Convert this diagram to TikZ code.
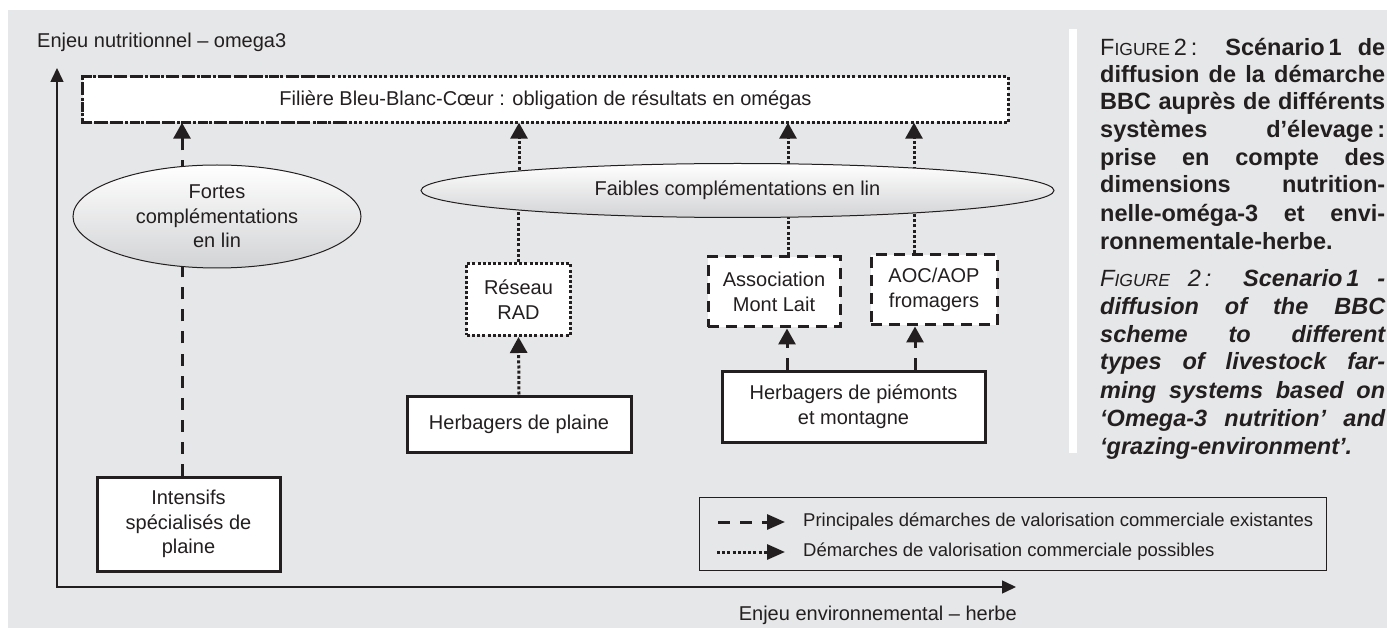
\documentclass[tikz,border=0pt]{standalone}
\usepackage{fontspec}
\setmainfont{Liberation Sans}
\usetikzlibrary{arrows.meta,shapes.geometric}
\definecolor{bggray}{RGB}{230,231,232}
\definecolor{ink}{RGB}{35,31,32}
\definecolor{ellbot}{RGB}{210,211,213}
\newcommand\mycapfont{\fontsize{23.5}{28}\selectfont}
\newcommand\mycapsc{\fontsize{17.5}{28}\selectfont}
\pgfdeclarelayer{bgl}
\pgfdeclarelayer{conn}
\pgfsetlayers{bgl,conn,main}
\begin{document}
\begin{tikzpicture}[x=1pt,y=-1pt,
  txt/.style={font=\fontsize{20}{24.5}\selectfont, text=ink, align=center, inner sep=0pt},
  legtxt/.style={font=\fontsize{18.5}{22}\selectfont, text=ink, inner sep=0pt},
  solidbox/.style={txt, draw=ink, line width=3pt, fill=white},
  dashbox/.style={txt, draw=ink, line width=3pt, dash pattern=on 11pt off 7pt, fill=white},
  dotbox/.style={txt, draw=ink, line width=3pt, dash pattern=on 3pt off 2.2pt, fill=white},
  ellnode/.style={txt, ellipse, draw=ink, line width=1pt, top color=white, bottom color=ellbot},
  dashln/.style={draw=ink, line width=3pt, dash pattern=on 12pt off 10pt},
  dotln/.style={draw=ink, line width=3pt, dash pattern=on 3pt off 2.2pt},
  headtip/.style={-{Triangle[length=16pt,width=17pt]}},
  legtip/.style={-{Triangle[length=18pt,width=15pt]}},
  axisln/.style={draw=ink, line width=1.5pt, {Triangle[length=14pt,width=13pt]}-{Triangle[length=14pt,width=13pt]}},
  capln/.style={anchor=base west, inner sep=0pt, font=\mycapfont, text=ink}]
\useasboundingbox (0,0) rectangle (1387,628);
\begin{pgfonlayer}{bgl}
  \fill[white] (0,0) rectangle (1387,628);
  \fill[bggray] (8,10) rectangle (1387,628);
  \fill[white] (1069,29) rectangle (1077,453);
\end{pgfonlayer}

% axes
\coordinate (orig) at (57,587);
\coordinate (ytip) at (57,68);
\coordinate (xtip) at (1016,587);
\draw[axisln] (ytip) -- (orig) -- (xtip);
\node[txt, anchor=west] (ylab) at (37,42) {Enjeu nutritionnel – omega3};
\node[txt, anchor=east] (xlab) at (1017,615) {Enjeu environnemental – herbe};

% top box
\node[txt, fill=white, minimum width=925pt, minimum height=45.5pt] (top) at (545.5,99.75)
  {Filière Bleu-Blanc-Cœur : obligation de résultats en omégas};
\draw[dotln, line width=2.8pt] (top.north west) rectangle (top.south east);
\draw[draw=ink, line width=3pt, dash pattern=on 10pt off 7pt]
  ([xshift=247pt]top.north west) -- (top.north west) -- (top.south west) -- ([xshift=262pt]top.south west);

% ellipses
\node[ellnode, minimum width=288pt, minimum height=103pt] (fortes) at (217,216.5)
  {Fortes\\complémentations\\en lin};
\node[ellnode, minimum width=633pt, minimum height=54pt] (faibles) at (737.5,190.5)
  {Faibles complémentations en lin};

% boxes
\node[dotbox, minimum width=103.5pt, minimum height=72pt] (reseau) at (518.5,299.5) {Réseau\\RAD};
\node[dashbox, minimum width=132pt, minimum height=70pt] (assoc) at (774,292) {Association\\Mont Lait};
\node[dashbox, minimum width=126pt, minimum height=70pt] (aoc) at (934,290) {AOC/AOP\\fromagers};
\node[solidbox, minimum width=224pt, minimum height=56pt] (plaine) at (519,424) {Herbagers de plaine};
\node[solidbox, minimum width=263pt, minimum height=71pt] (piem) at (853.5,406.5) {Herbagers de piémonts\\et montagne};
\node[solidbox, minimum width=183pt, minimum height=94pt] (intens) at (188.5,524) {Intensifs\\spécialisés de\\plaine};

% connectors
\begin{pgfonlayer}{conn}
  \draw[dashln, headtip] ([xshift=-35pt]fortes.center) -- ([xshift=-35pt]fortes.center |- top.south);
  \draw[dashln] ([xshift=-6.5pt]intens.north) -- ([xshift=-6.5pt]intens.north |- fortes.center);
  \draw[dotln, headtip] ([xshift=-218.5pt]faibles.center) -- ([xshift=-218.5pt]faibles.center |- top.south);
  \draw[dotln, headtip] ([xshift=50.5pt]faibles.center) -- ([xshift=50.5pt]faibles.center |- top.south);
  \draw[dotln, headtip] ([xshift=176.5pt]faibles.center) -- ([xshift=176.5pt]faibles.center |- top.south);
  \draw[dotln] (reseau.north) -- (reseau.north |- faibles.center);
  \draw[dotln] ([xshift=14pt]assoc.north) -- ([xshift=14pt]assoc.north |- faibles.center);
  \draw[dotln] ([xshift=-20pt]aoc.north) -- ([xshift=-20pt]aoc.north |- faibles.center);
  \draw[dotln, headtip] (plaine.north) -- (reseau.south);
  \draw[dashln, headtip] ([xshift=13pt]assoc.south |- piem.north) -- ([xshift=13pt]assoc.south);
  \draw[dashln, headtip] ([xshift=-19pt]aoc.south |- piem.north) -- ([xshift=-19pt]aoc.south);
\end{pgfonlayer}

% legend
\node[draw=ink, line width=0.8pt, minimum width=627pt, minimum height=73pt, inner sep=0pt] (legend) at (1012.5,533.5) {};
\coordinate (la1) at (718,522);
\coordinate (lb1) at (785,522);
\coordinate (la2) at (717,552);
\coordinate (lb2) at (785,552);
\draw[dashln, legtip] (la1) -- (lb1);
\draw[dotln, legtip] (la2) -- (lb2);
\node[legtxt, anchor=west] (lt1) at (803,522) {Principales démarches de valorisation commerciale existantes};
\node[legtxt, anchor=west] (lt2) at (803,552) {Démarches de valorisation commerciale possibles};

% caption
\node[capln] (c1) at (1100,56) {\makebox[285pt][s]{F{\mycapsc IGURE}\,2\,: \textbf{Scénario\,1 de}}};
\node[capln] (c2) at (1100,83) {\makebox[285pt][s]{\bfseries diffusion de la démarche}};
\node[capln] (c3) at (1100,110) {\makebox[285pt][s]{\bfseries BBC auprès de différents}};
\node[capln] (c4) at (1100,138) {\makebox[285pt][s]{\bfseries systèmes d’élevage\,:}};
\node[capln] (c5) at (1100,166) {\makebox[285pt][s]{\bfseries prise en compte des}};
\node[capln] (c6) at (1100,193) {\makebox[285pt][s]{\bfseries dimensions nutrition-}};
\node[capln] (c7) at (1100,222) {\makebox[285pt][s]{\bfseries nelle-oméga-3 et envi-}};
\node[capln] (c8) at (1100,250) {\bfseries ronnementale-herbe.};
\node[capln] (c9) at (1100,287) {\makebox[285pt][s]{{\itshape F{\mycapsc IGURE} 2\,:} {\bfseries\itshape Scenario\,1 -}}};
\node[capln] (c10) at (1100,315) {\makebox[285pt][s]{\bfseries\itshape diffusion of the BBC}};
\node[capln] (c11) at (1100,343) {\makebox[285pt][s]{\bfseries\itshape scheme to different}};
\node[capln] (c12) at (1100,370) {\makebox[285pt][s]{\bfseries\itshape types of livestock far-}};
\node[capln] (c13) at (1100,398) {\makebox[285pt][s]{\bfseries\itshape ming systems based on}};
\node[capln] (c14) at (1100,426) {\makebox[285pt][s]{\bfseries\itshape ‘Omega-3 nutrition’ and}};
\node[capln] (c15) at (1100,454) {\bfseries\itshape ‘grazing-environment’.};
\end{tikzpicture}
\end{document}
